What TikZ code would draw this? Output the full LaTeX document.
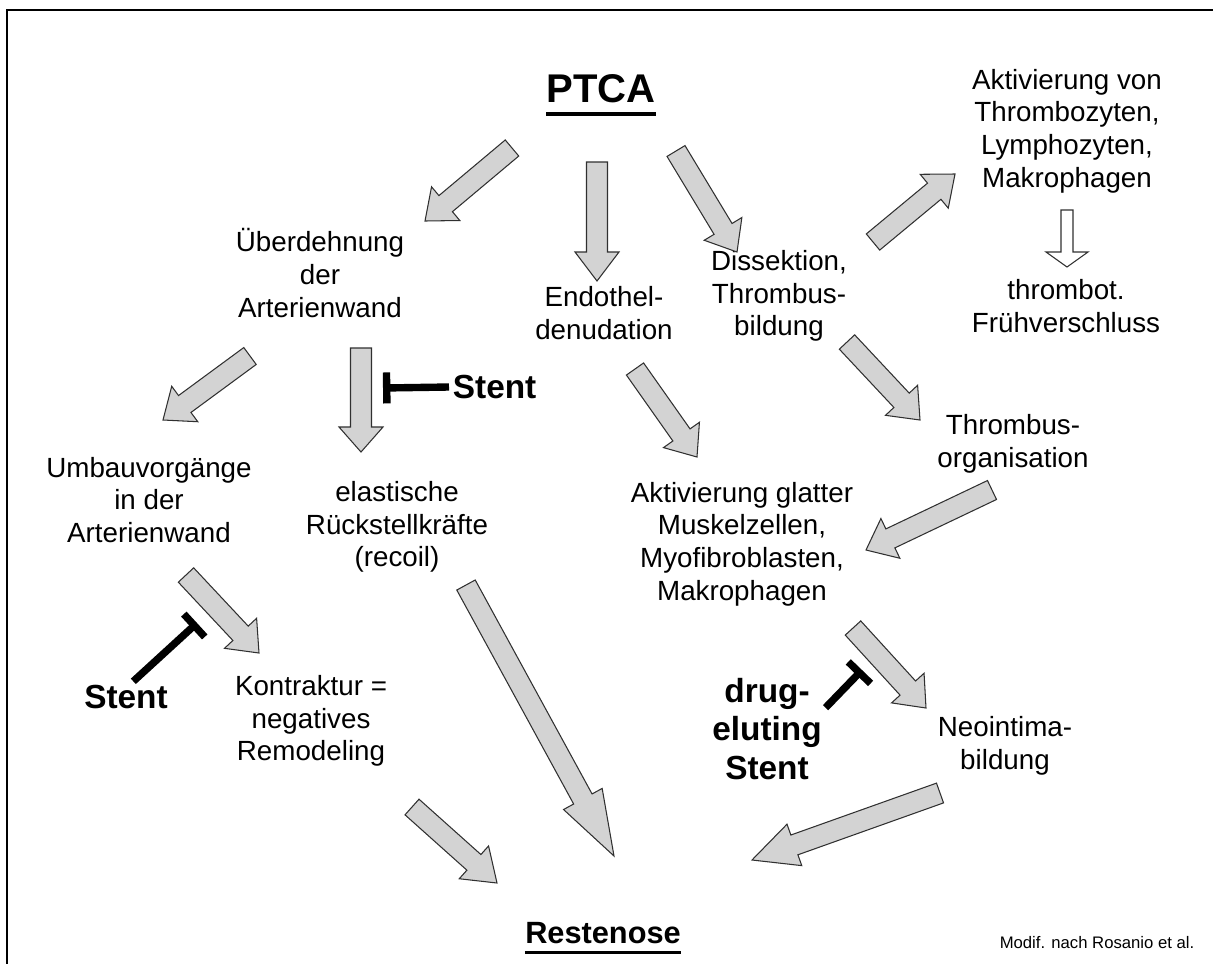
\documentclass[tikz,border=0pt]{standalone}
\usepackage{fontspec}
\setmainfont{Liberation Sans}
\usepackage{tikz}
\usetikzlibrary{calc,arrows.meta}
\definecolor{grau}{HTML}{D3D3D3}
\definecolor{rand}{HTML}{303030}

% Blockpfeil: [Kopflaenge]{Stil}{von}{nach}
\tikzset{schaft/.store in=\schaftb, kopf/.store in=\kopfb, schaft=0.21cm, kopf=0.44cm}
\newcommand{\pfeil}[4][0.54cm]{%
  \coordinate (kb) at ($(#4)!#1!(#3)$);
  \draw[#2] ($(#3)!\schaftb!90:(#4)$) -- ($(kb)!\schaftb!90:(#4)$) -- ($(kb)!\kopfb!90:(#4)$)
    -- (#4) -- ($(kb)!\kopfb!-90:(#4)$) -- ($(kb)!\schaftb!-90:(#4)$) -- ($(#3)!\schaftb!-90:(#4)$) -- cycle;}

\begin{document}
\begin{tikzpicture}[
      x=0.02cm, y=-0.02cm,
      txt/.style={align=center, font=\fontsize{15.8}{18.6}\selectfont, inner sep=1pt},
      fett/.style={align=center, font=\fontsize{19}{22}\selectfont\bfseries, inner sep=2pt},
      titel/.style={font=\fontsize{22.8}{26}\selectfont\bfseries, inner sep=0pt},
      pfeil/.style={fill=grau, draw=rand, line width=0.6pt, line join=miter},
      hohl/.style={fill=white, draw=rand, line width=0.6pt, schaft=0.12cm, kopf=0.42cm},
      hemm/.style={line width=4.2pt, -{Bar[width=0.62cm]}}
    ]
    \useasboundingbox (0,0) rectangle (1213,964);
    \draw[line width=1.1pt] (1213,10) -- (7,10) -- (7,964);

    % Begriffe
    \node[titel] (ptca) at (601,89) {PTCA};
    \node[txt] (aktvon) at (1067,131) {Aktivierung von\\Thrombozyten,\\Lymphozyten,\\Makrophagen};
    \node[txt] (ueber) at (320,273) {Überdehnung\\der\\Arterienwand};
    \node[txt] (endo) at (604,313) {Endothel-\\denudation};
    \node[txt] (diss) at (779,296) {Dissektion,\\Thrombus-\\bildung};
    \node[txt] (frueh) at (1066,306) {thrombot.\\Frühverschluss};
    \node[txt] (umbau) at (149,500) {Umbauvorgänge\\in der\\Arterienwand};
    \node[txt] (recoil) at (397,527) {elastische\\Rückstellkräfte\\(recoil)};
    \node[txt] (throrg) at (1013,444) {Thrombus-\\organisation};
    \node[txt] (glatt) at (742,544) {Aktivierung glatter\\Muskelzellen,\\Myofibroblasten,\\Makrophagen};
    \node[txt] (kontr) at (311,721) {Kontraktur =\\negatives\\Remodeling};
    \node[txt] (neo) at (1005,746) {Neointima-\\bildung};
    \node[titel, font=\fontsize{17.5}{21}\selectfont\bfseries] (rest) at (603,933) {Restenose};
    \node[font=\fontsize{9.5}{11}\selectfont, inner sep=0pt] (quelle) at (1097,943) {Modif. nach Rosanio et al.};

    \node[fett, anchor=west] (stent1) at (449,387) {Stent};
    \node[fett] (stent2) at (126,697) {Stent};
    \node[fett] (des) at (767,729) {drug-\\eluting\\Stent};

    \draw[line width=2.3pt] ($(ptca.base west)+(0,11)$) -- ($(ptca.base east)+(0,11)$);
    \draw[line width=2.2pt] ($(rest.base west)+(0,9)$) -- ($(rest.base east)+(0,9)$);

    % Pfeilenden
    \coordinate (a1) at (512,148);  \coordinate (b1) at (425,221);
    \coordinate (a2) at (597,162);  \coordinate (b2) at (597,281);
    \coordinate (a3) at (676,151);  \coordinate (b3) at (737,252);
    \coordinate (a4) at (873,242);  \coordinate (b4) at (955,174);
    \coordinate (a5) at (1067,210); \coordinate (b5) at (1067,267);
    \coordinate (a6) at (250,356);  \coordinate (b6) at (163,420);
    \coordinate (a7) at (361,348);  \coordinate (b7) at (361,452);
    \coordinate (a8) at (635,369);  \coordinate (b8) at (697,457);
    \coordinate (a9) at (847,342);  \coordinate (b9) at (920,420);
    \coordinate (a10) at (992,490); \coordinate (b10) at (866,550);
    \coordinate (a11) at (186,575); \coordinate (b11) at (259,653);
    \coordinate (a12) at (466,585); \coordinate (b12) at (614,856);
    \coordinate (a13) at (412,807); \coordinate (b13) at (497,883);
    \coordinate (a14) at (853,628); \coordinate (b14) at (926,708);
    \coordinate (a15) at (940,793); \coordinate (b15) at (752,860);

    \pfeil{pfeil}{a1}{b1}
    \pfeil[0.58cm]{pfeil}{a2}{b2}
    \pfeil{pfeil}{a3}{b3}
    \pfeil{pfeil}{a4}{b4}
    \pfeil[0.3cm]{hohl}{a5}{b5}
    \pfeil{pfeil}{a6}{b6}
    \pfeil[0.5cm]{pfeil}{a7}{b7}
    \pfeil{pfeil}{a8}{b8}
    \pfeil{pfeil}{a9}{b9}
    \pfeil{pfeil}{a10}{b10}
    \pfeil{pfeil}{a11}{b11}
    \pfeil[1.3cm]{pfeil}{a12}{b12}
    \pfeil[0.62cm]{pfeil}{a13}{b13}
    \pfeil{pfeil}{a14}{b14}
    \pfeil[0.9cm]{pfeil}{a15}{b15}

    % Hemmung
    \coordinate (h1) at (383,388);
    \coordinate (h2) at (197,623);
    \coordinate (h3) at (862,670);
    \draw[hemm] (stent1.west) -- (h1);
    \draw[hemm] (stent2.65) -- (h2);
    \draw[hemm] (des.20) -- (h3);
  \end{tikzpicture}
\end{document}
